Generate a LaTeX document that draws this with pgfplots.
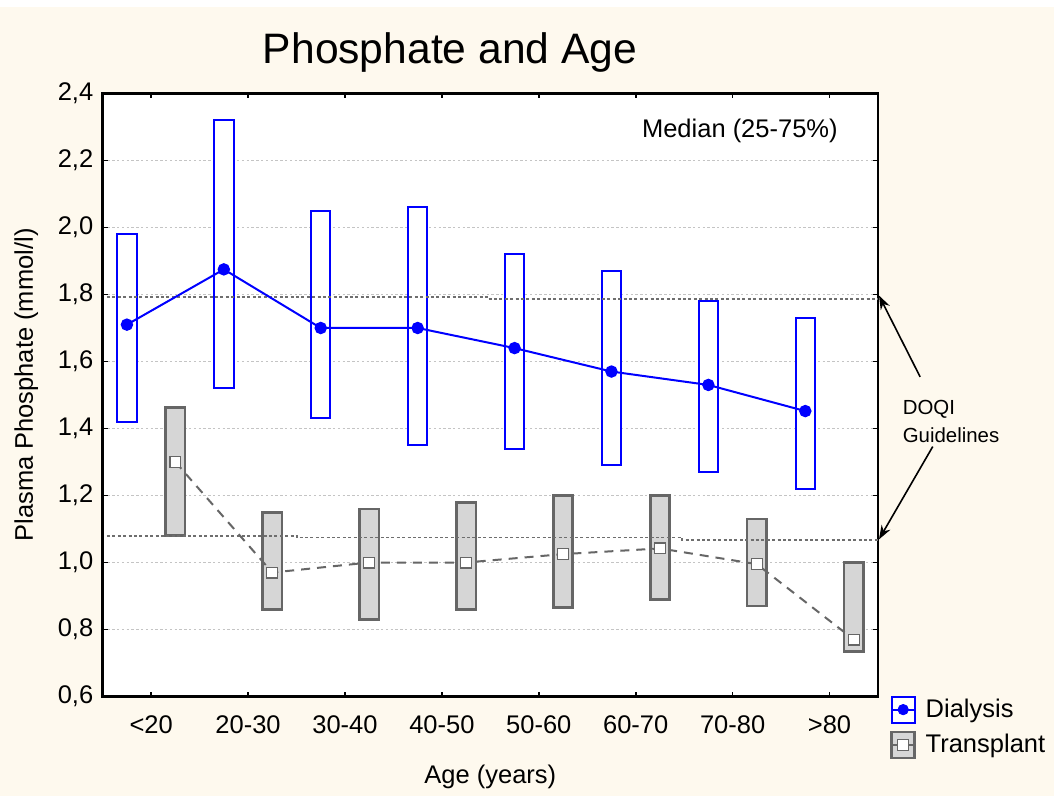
\documentclass[border=0pt]{standalone}
\usepackage{fontspec}
\setmainfont{Liberation Sans}
\usepackage{pgfplots}
\usepackage{pgfplotstable}
\pgfplotsset{compat=1.18}
\usepgfplotslibrary{statistics}
\usetikzlibrary{arrows.meta}
\definecolor{cream}{HTML}{FEF9EE}
\definecolor{tgray}{HTML}{666666}
\definecolor{tfill}{HTML}{D6D6D6}
\definecolor{gridc}{HTML}{C4C4C4}
\definecolor{doqi}{HTML}{6E6E6E}
\newcommand\tfont{\fontsize{12.75bp}{15bp}\selectfont}

% medians (x = age class index)
\pgfplotstableread{
x dmed tmed
0 1.71 1.30
1 1.875 0.97
2 1.70 1.00
3 1.70 1.00
4 1.64 1.025
5 1.57 1.042
6 1.53 0.995
7 1.452 0.77
}\medians

\newcommand{\dbox}[4]{\addplot[dial, forget plot, boxplot/draw direction=y, boxplot prepared={draw position=#1, lower whisker=#2, lower quartile=#2, median=#3, upper quartile=#4, upper whisker=#4, box extend=0.2}] coordinates {};}
\newcommand{\tbox}[4]{\addplot[tran, forget plot, boxplot/draw direction=y, boxplot prepared={draw position=#1, lower whisker=#2, lower quartile=#2, median=#3, upper quartile=#4, upper whisker=#4, box extend=0.2}] coordinates {};}

\begin{document}
\begin{tikzpicture}
\fill[white] (-51.35bp,-49.75bp) rectangle (475.65bp,348.25bp);
\fill[cream] (-51.35bp,-49.75bp) rectangle (475.65bp,344.75bp);
\begin{axis}[
  at={(0,0)}, anchor=south west,
  scale only axis, width=387.65bp, height=301.5bp,
  xmin=-0.5, xmax=7.5, ymin=0.6, ymax=2.4,
  xtick={0,1,2,3,4,5,6,7},
  xticklabels={<20,20-30,30-40,40-50,50-60,60-70,70-80,>80},
  ytick={0.6,0.8,1.0,1.2,1.4,1.6,1.8,2.0,2.2,2.4},
  yticklabel style={font=\tfont, anchor=east, xshift=-1.2bp,
    /pgf/number format/fixed, /pgf/number format/fixed zerofill,
    /pgf/number format/precision=1, /pgf/number format/use comma,
    /pgf/number format/assume math mode=true},
  xticklabel style={font=\tfont, anchor=base, yshift=-18.3bp},
  tick align=inside,
  major tick length=2.5bp,
  tick style={black, line width=0.8bp},
  axis line style={black, line width=1.3bp},
  axis background/.style={fill=white},
  ymajorgrids,
  major grid style={gridc, dash pattern=on 1.2bp off 1.2bp, line width=0.5bp},
  xlabel={Age (years)},
  ylabel={Plasma Phosphate (mmol/l)},
  xlabel style={font=\tfont, at={(axis description cs:0.5,0)}, anchor=base, yshift=-43.25bp},
  ylabel style={font=\tfont, at={(axis description cs:-0.0899,0.5166)}, anchor=base},
  clip=false,
  boxplot/draw direction=y,
  boxplot/draw/median/.code={},
  boxplot/draw/lower whisker/.code={},
  boxplot/draw/upper whisker/.code={},
  dial/.style={draw=blue, fill=white, line width=1bp, solid},
  tran/.style={draw=tgray, fill=tfill, line width=1.3bp, solid},
  legend style={at={(axis description cs:1,0)}, anchor=north west, xshift=6bp, yshift=1bp,
    draw=none, fill=none, font=\tfont, row sep=3bp, inner sep=0pt},
  legend cell align=left,
]
\addlegendimage{legend image code/.code={
  \path[draw=none, fill=none] (0bp,0bp) -- (15bp,0bp);
  \draw[blue, line width=1bp, fill=white] (0bp,-6.5bp) rectangle (11.5bp,6.5bp);
  \draw[blue, line width=1bp] (0bp,0bp) -- (11.5bp,0bp);
  \fill[blue] (5.75bp,0bp) circle (2.6bp);}}
\addlegendentry{Dialysis}
\addlegendimage{legend image code/.code={
  \path[draw=none, fill=none] (0bp,0bp) -- (15bp,0bp);
  \draw[tgray, line width=1.3bp, fill=tfill] (0bp,-6.5bp) rectangle (11.5bp,6.5bp);
  \draw[tgray, line width=0.7bp] (0bp,0bp) -- (11.5bp,0bp);
  \draw[tgray, line width=0.5bp, fill=white] (3bp,-2.7bp) rectangle (8.5bp,2.7bp);}}
\addlegendentry{Transplant}

% Dialysis boxes: position, lower quartile, median, upper quartile
\dbox{-0.25}{1.42}{1.71}{1.98}
\dbox{0.75}{1.52}{1.875}{2.32}
\dbox{1.75}{1.43}{1.70}{2.05}
\dbox{2.75}{1.35}{1.70}{2.06}
\dbox{3.75}{1.34}{1.64}{1.92}
\dbox{4.75}{1.29}{1.57}{1.87}
\dbox{5.75}{1.27}{1.53}{1.78}
\dbox{6.75}{1.22}{1.452}{1.73}
% Transplant boxes
\tbox{0.25}{1.08}{1.30}{1.463}
\tbox{1.25}{0.86}{0.97}{1.15}
\tbox{2.25}{0.83}{1.00}{1.16}
\tbox{3.25}{0.86}{1.00}{1.18}
\tbox{4.25}{0.865}{1.025}{1.20}
\tbox{5.25}{0.89}{1.042}{1.20}
\tbox{6.25}{0.87}{0.995}{1.13}
\tbox{7.25}{0.735}{0.77}{1.00}

% DOQI guideline lines
\addplot[forget plot, doqi, dash pattern=on 1.5bp off 1.2bp, line width=0.8bp] coordinates {(-0.456,1.792) (3.47,1.792) (3.47,1.787) (7.5,1.787)};
\addplot[forget plot, doqi, dash pattern=on 1.5bp off 1.2bp, line width=0.8bp] coordinates {(-0.456,1.08) (1.505,1.08) (1.505,1.075) (5.48,1.075) (5.48,1.067) (7.5,1.067)};

% median lines
\addplot[forget plot, tgray, line width=1bp, dash pattern=on 4.5bp off 3.5bp, mark=square*, mark size=2.7bp, mark options={solid, fill=white, draw=tgray, line width=0.6bp}]
  table[x expr=\thisrow{x}+0.25, y=tmed] {\medians};
\addplot[forget plot, blue, line width=1bp, mark=*, mark size=2.6bp]
  table[x expr=\thisrow{x}-0.25, y=dmed] {\medians};

\node[font=\tfont, anchor=west] at (axis cs:4.993,2.288) {Median (25-75\%)};
\node[font=\fontsize{10.2bp}{14bp}\selectfont, anchor=west, align=left] at (axis cs:7.684,1.422) {DOQI\\Guidelines};
\draw[-{Stealth[length=7bp,width=5bp]}, line width=0.8bp] (axis cs:7.935,1.554) -- (axis cs:7.51,1.797);
\draw[-{Stealth[length=7bp,width=5bp]}, line width=0.8bp] (axis cs:8.065,1.346) -- (axis cs:7.51,1.069);
\node[font=\fontsize{21.3bp}{24bp}\selectfont, anchor=base] at (rel axis cs:0.448,1) [yshift=14.75bp] {Phosphate and Age};
\end{axis}
\end{tikzpicture}
\end{document}
